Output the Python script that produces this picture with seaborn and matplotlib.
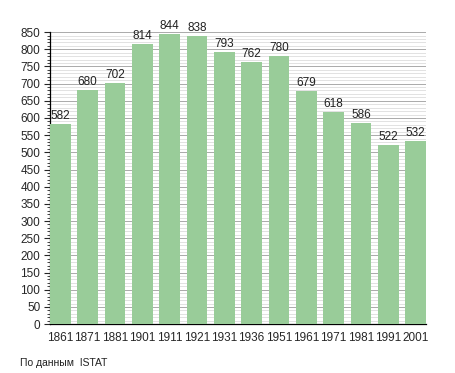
import matplotlib
matplotlib.use("Agg")
import matplotlib.pyplot as plt
import seaborn as sns
import pandas as pd
from matplotlib.ticker import MultipleLocator

# данные переписи (ISTAT)
years = ["1861", "1871", "1881", "1901", "1911", "1921", "1931",
         "1936", "1951", "1961", "1971", "1981", "1991", "2001"]
population = [582, 680, 702, 814, 844, 838, 793, 762, 780, 679, 618, 586, 522, 532]

df = pd.DataFrame({"year": years, "pop": population})

sns.set_style("white")
plt.rcParams["font.family"] = ["Liberation Sans", "DejaVu Sans"]

fig = plt.figure(figsize=(4.55, 3.73), dpi=100)
ax = fig.add_axes([0.11, 0.131, 0.826, 0.783])

sns.barplot(data=df, x="year", y="pop", color="#99cc99", saturation=1,
            width=0.75, linewidth=0, ax=ax, zorder=3)

# сетка: тонкие линии каждые 10, потемнее каждые 50
ax.yaxis.set_major_locator(MultipleLocator(50))
ax.yaxis.set_minor_locator(MultipleLocator(10))
ax.grid(axis="y", which="minor", color="#dddddd", linewidth=0.6, zorder=0)
ax.grid(axis="y", which="major", color="#aaaaaa", linewidth=0.7, zorder=0)
ax.set_axisbelow(True)

ax.set_ylim(0, 850)
ax.set_xlim(-0.375, len(years) - 1 + 0.375)

for i, v in enumerate(population):
    ax.text(i, v + 6, str(v), ha="center", va="bottom", fontsize=8.5, color="#222222")

for s in ["top", "right"]:
    ax.spines[s].set_visible(False)
ax.spines["left"].set_color("black")
ax.spines["bottom"].set_color("black")
ax.spines["left"].set_linewidth(0.9)
ax.spines["bottom"].set_linewidth(0.9)

ax.tick_params(axis="y", which="major", left=True, length=4, width=0.8, labelsize=8.5, pad=3)
ax.tick_params(axis="y", which="minor", left=True, length=2, width=0.6)
ax.tick_params(axis="x", bottom=False, labelsize=8.5, pad=2)
ax.set_xlabel("")
ax.set_ylabel("")

fig.text(0.044, 0.02, "По данным  ISTAT", fontsize=7.5, color="#222222")

fig.savefig("out.png", dpi=100)
